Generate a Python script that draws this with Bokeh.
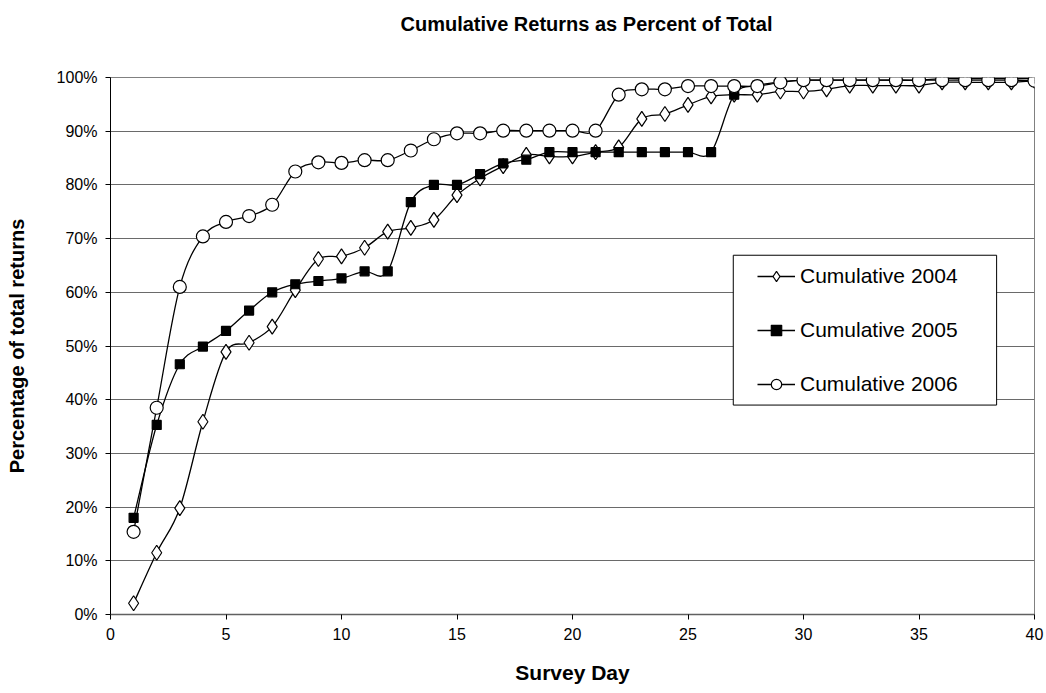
import numpy as np
from bokeh.plotting import figure
from bokeh.models import (Range1d, FixedTicker, PrintfTickFormatter, Legend,
                          LegendItem, BoxAnnotation, ColumnDataSource, Title)
from bokeh.embed import file_html
from bokeh.resources import INLINE

days = list(range(1, 41))
cum_2004 = [2.1, 11.5, 19.8, 35.9, 48.9, 50.6, 53.6, 60.4, 66.2, 66.7,
            68.3, 71.3, 72.0, 73.5, 78.1, 81.2, 83.5, 85.6, 85.3, 85.3,
            86.1, 87.0, 92.3, 93.2, 94.9, 96.5, 96.8, 96.8, 97.4, 97.4,
            97.8, 98.5, 98.5, 98.5, 98.5, 99.1, 99.1, 99.1, 99.1, 99.4]
cum_2005 = [18.0, 35.3, 46.6, 49.9, 52.8, 56.6, 60.0, 61.5, 62.1, 62.6,
            63.9, 63.9, 76.8, 80.0, 80.0, 82.0, 84.0, 84.7, 86.1, 86.1,
            86.1, 86.1, 86.1, 86.1, 86.1, 86.1, 96.8, 98.5, 99.2, 99.5,
            99.5, 99.5, 99.5, 99.5, 99.5, 99.8, 99.8, 99.8, 99.8, 99.8]
cum_2006 = [15.4, 38.5, 61.0, 70.4, 73.1, 74.2, 76.3, 82.5, 84.2, 84.1,
            84.6, 84.6, 86.4, 88.5, 89.6, 89.6, 90.1, 90.1, 90.1, 90.1,
            90.1, 96.8, 97.8, 97.8, 98.4, 98.4, 98.4, 98.4, 99.1, 99.5,
            99.5, 99.5, 99.5, 99.5, 99.5, 99.5, 99.5, 99.5, 99.5, 99.4]
series_labels = ["Cumulative 2004", "Cumulative 2005", "Cumulative 2006"]
x_ticks = [0, 5, 10, 15, 20, 25, 30, 35, 40]
y_ticks = [0, 10, 20, 30, 40, 50, 60, 70, 80, 90, 100]
chart_title = "Cumulative Returns as Percent of Total"

FONT = "Liberation Sans"


def smooth_segments(x, y):
    """Bezier control points (Catmull-Rom style, like Excel's smoothed line)."""
    x = np.asarray(x, float)
    y = np.asarray(y, float)
    n = len(x)
    xp = np.concatenate([[x[0]], x, [x[-1]]])
    yp = np.concatenate([[y[0]], y, [y[-1]]])
    return ColumnDataSource(dict(
        x0=x[:-1], y0=y[:-1], x1=x[1:], y1=y[1:],
        cx0=x[:-1] + (xp[2:n + 1] - xp[0:n - 1]) / 6.0,
        cy0=y[:-1] + (yp[2:n + 1] - yp[0:n - 1]) / 6.0,
        cx1=x[1:] - (xp[3:n + 2] - xp[1:n]) / 6.0,
        cy1=y[1:] - (yp[3:n + 2] - yp[1:n]) / 6.0,
    ))


p = figure(width=1046, height=693, output_backend="svg", toolbar_location=None,
           x_range=Range1d(0, 40), y_range=Range1d(0, 100),
           min_border_left=110, min_border_right=12,
           min_border_top=76, min_border_bottom=79,
           background_fill_color="white", border_fill_color="white")

# a blank second line gives the title block the height of the top margin,
# so the (top-aligned) title text sits near the top of the page
p.title = Title(text=chart_title + "\n ", align="left", vertical_align="top",
                text_font=FONT, text_font_size="20px", text_font_style="bold",
                text_color="black", text_line_height=1.3,
                standoff=24, offset=290)

p.outline_line_color = "#808080"
p.outline_line_width = 1

# axes
p.xaxis.ticker = FixedTicker(ticks=x_ticks)
p.yaxis.ticker = FixedTicker(ticks=y_ticks)
p.yaxis.formatter = PrintfTickFormatter(format="%d%%")
for ax in (p.xaxis[0], p.yaxis[0]):
    ax.axis_line_color = "black"
    ax.axis_line_width = 1
    ax.major_tick_line_color = "black"
    ax.major_tick_in = 0
    ax.major_tick_out = 5
    ax.minor_tick_line_color = None
    ax.major_label_text_font = FONT
    ax.major_label_text_font_size = "16px"
    ax.major_label_text_color = "black"
    ax.axis_label_text_font = FONT
    ax.axis_label_text_font_style = "bold"
    ax.axis_label_text_color = "black"
p.xaxis.axis_label_text_font_size = "21px"
p.yaxis.axis_label_text_font_size = "20px"
p.xaxis.axis_line_color = "#606060"
p.xaxis.axis_line_width = 1.5
p.xaxis.axis_label = "Survey Day"
p.yaxis.axis_label = "Percentage of total returns"
p.xaxis.major_label_standoff = 8
p.yaxis.major_label_standoff = 8
p.xaxis.axis_label_standoff = 18
p.yaxis.axis_label_standoff = 26

p.xgrid.grid_line_color = None
p.ygrid.grid_line_color = "#6a6a6a"
p.ygrid.grid_line_width = 1

# series
styles = [
    dict(marker="diamond", size=15, fill_color="white"),
    dict(marker="square", size=9, fill_color="black"),
    dict(marker="circle", size=13, fill_color="white"),
]
items = []
for vals, label, st in zip([cum_2004, cum_2005, cum_2006], series_labels, styles):
    src = smooth_segments(days, vals)
    lr = p.bezier(x0="x0", y0="y0", x1="x1", y1="y1", cx0="cx0", cy0="cy0",
                  cx1="cx1", cy1="cy1", source=src, line_color="black",
                  line_width=1.3)
    mr = p.scatter(days, vals, marker=st["marker"], size=st["size"],
                   fill_color=st["fill_color"], line_color="black", line_width=1.2)
    items.append(LegendItem(label=label, renderers=[lr, mr]))

# legend box
box = BoxAnnotation(left=26.96, right=38.36, bottom=39.0, top=66.9,
                    fill_color="white", fill_alpha=1.0,
                    line_color="black", line_width=1, line_alpha=1.0)
p.add_layout(box)

legend = Legend(items=items, location=(647, 217), padding=0, margin=0,
                spacing=28, glyph_height=26, label_height=26, glyph_width=38,
                label_standoff=5, border_line_color=None,
                background_fill_alpha=0.0, label_text_font=FONT,
                label_text_font_size="21px", label_text_color="black")
p.add_layout(legend, "center")

open("out.html", "w").write(file_html(p, INLINE))
